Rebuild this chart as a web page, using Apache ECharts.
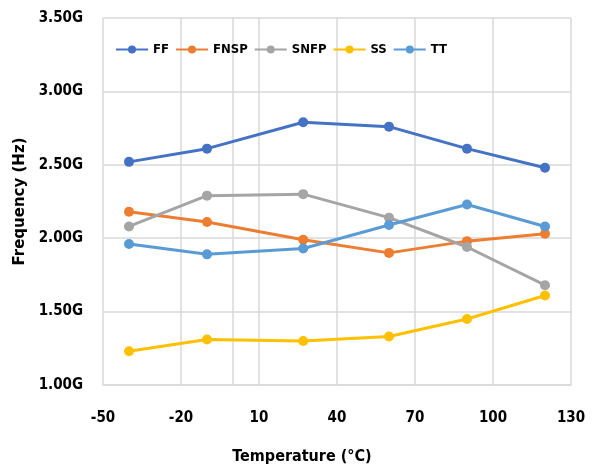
<!DOCTYPE html>
<html>
<head>
<meta charset="utf-8">
<script src="https://cdn.jsdelivr.net/npm/echarts@6/dist/echarts.min.js"></script>
<style>
    html, body { margin: 0; padding: 0; background: #fff; }
    #chart { width: 592px; height: 470px; }
</style>
</head>
<body>
<div id="chart"></div>
<script>
// temperature points (°C)
var temps = [-40, -10, 27, 60, 90, 120];
// frequency values in GHz
var ff = [2.52, 2.61, 2.79, 2.76, 2.61, 2.48];
var fnsp = [2.18, 2.11, 1.99, 1.90, 1.98, 2.03];
var snfp = [2.08, 2.29, 2.30, 2.14, 1.94, 1.68];
var ss = [1.23, 1.31, 1.30, 1.33, 1.45, 1.61];
var tt = [1.96, 1.89, 1.93, 2.09, 2.23, 2.08];

var seriesNames = ['FF', 'FNSP', 'SNFP', 'SS', 'TT'];
var seriesData = [ff, fnsp, snfp, ss, tt];
var colors = ['#4472C4', '#ED7D31', '#A5A5A5', '#FFC000', '#5B9BD5'];

var labelFont = "'DejaVu Sans Condensed', 'Liberation Sans', sans-serif";

function pairs(vals) {
    return temps.map(function (t, i) { return [t, vals[i]]; });
}

var myChart = echarts.init(document.getElementById('chart'));
var option = {
    animation: false,
    color: colors,
    grid: { left: 103, right: 21, top: 18, bottom: 85 },
    legend: {
        top: 38,
        left: 110,
        itemWidth: 32,
        itemHeight: 10,
        itemGap: 6,
        textStyle: { fontFamily: labelFont, fontWeight: 'bold', fontSize: 13, color: '#000' },
        data: seriesNames
    },
    xAxis: {
        type: 'value',
        min: -50,
        max: 130,
        interval: 30,
        name: 'Temperature (°C)',
        nameLocation: 'middle',
        nameGap: 64,
        nameTextStyle: {
            fontFamily: labelFont, fontWeight: 'bold', fontSize: 16, color: '#000',
            padding: [0, 70, 0, 0]
        },
        axisLine: { show: true, lineStyle: { color: '#d9d9d9', width: 1.5 } },
        axisTick: { show: false },
        axisLabel: { margin: 26, fontFamily: labelFont, fontWeight: 'bold', fontSize: 15, color: '#000' },
        splitLine: { show: true, lineStyle: { color: '#d9d9d9', width: 1.5 } }
    },
    yAxis: {
        type: 'value',
        min: 1,
        max: 3.5,
        interval: 0.5,
        name: 'Frequency (Hz)',
        nameLocation: 'middle',
        nameGap: 75,
        nameTextStyle: { fontFamily: 'DejaVu Sans', fontWeight: 'bold', fontSize: 15, color: '#000' },
        axisLine: { show: true, lineStyle: { color: '#d9d9d9', width: 1.5 } },
        axisTick: { show: false },
        axisLabel: {
            margin: 20,
            fontFamily: labelFont, fontWeight: 'bold', fontSize: 15, color: '#000',
            formatter: function (v) { return v.toFixed(2) + 'G'; }
        },
        splitLine: { show: true, lineStyle: { color: '#d9d9d9', width: 1.5 } }
    },
    series: seriesNames.map(function (name, i) {
        return {
            name: name,
            type: 'line',
            data: pairs(seriesData[i]),
            symbol: 'circle',
            symbolSize: 10,
            lineStyle: { width: 3 },
            z: 2 + i
        };
    })
};
myChart.setOption(option);
</script>
</body>
</html>
